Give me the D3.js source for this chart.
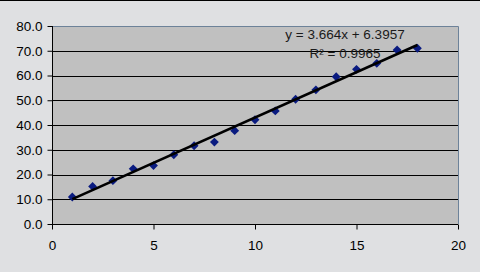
<!DOCTYPE html>
<html>
<head>
<meta charset="utf-8">
<script src="https://cdn.jsdelivr.net/npm/d3@7"></script>
<style>
   body { margin: 0; background: #dfe0e2; }
   svg { display: block; }
   text { font-family: "Liberation Sans", Arial, sans-serif; fill: #000; }
</style>
</head>
<body>
<div id="chart"></div>
<script>
var xValues = [1, 2, 3, 4, 5, 6, 7, 8, 9, 10, 11, 12, 13, 14, 15, 16, 17, 18]
var yValues = [10.9, 15.2, 17.5, 22.3, 23.6, 28.0, 31.6, 33.1, 37.7, 42.1, 45.7, 50.4, 54.2, 59.5, 62.5, 64.9, 70.3, 71.0]
var xTicks = [0, 5, 10, 15, 20]
var yTicks = [0, 10, 20, 30, 40, 50, 60, 70, 80]
var trendSlope = 3.664
var trendIntercept = 6.3957
var trendLabel = "y = 3.664x + 6.3957"
var r2Label = "R² = 0.9965"

var width = 480
var height = 272
var margin = { top: 26, right: 22, bottom: 48, left: 52 }

var svg = d3.select("#chart").append("svg")
   .attr("width", width)
   .attr("height", height)

svg.append("rect")
   .attr("width", width).attr("height", height)
   .attr("fill", "#dfe0e2")
svg.append("line")
   .attr("x1", 0).attr("x2", width).attr("y1", 0.5).attr("y2", 0.5)
   .attr("stroke", "#000")

var scaleX = d3.scaleLinear().domain([0, 20]).range([margin.left, width - margin.right])
var scaleY = d3.scaleLinear().domain([0, 80]).range([height - margin.bottom, margin.top])

// plot area
svg.append("rect")
   .attr("x", scaleX(0)).attr("y", scaleY(80))
   .attr("width", scaleX(20) - scaleX(0))
   .attr("height", scaleY(0) - scaleY(80))
   .attr("fill", "#c0c0c0")

// gridlines
svg.selectAll("line.grid").data(yTicks.filter(function(d) { return d > 0 && d < 80 }))
   .enter().append("line")
      .attr("class", "grid")
      .attr("x1", scaleX(0)).attr("x2", scaleX(20))
      .attr("y1", function(d) { return Math.round(scaleY(d)) + 0.5 })
      .attr("y2", function(d) { return Math.round(scaleY(d)) + 0.5 })
      .attr("stroke", "#000")

// top and right border
svg.append("path")
   .attr("d", "M" + scaleX(0) + "," + (Math.round(scaleY(80)) + 0.5) +
      "H" + (Math.round(scaleX(20)) + 0.5) + "V" + scaleY(0))
   .attr("fill", "none")
   .attr("stroke", "#6d8299")

// axes
var yAxis = d3.axisLeft(scaleY).tickValues(yTicks).tickSize(5).tickPadding(5)
   .tickFormat(d3.format(".1f"))
var xAxis = d3.axisBottom(scaleX).tickValues(xTicks).tickSize(5).tickPadding(11)

var gy = svg.append("g")
   .attr("transform", "translate(" + (Math.round(scaleX(0)) + 0.5) + ",0)")
   .call(yAxis)
var gx = svg.append("g")
   .attr("transform", "translate(0," + (Math.round(scaleY(0)) + 0.5) + ")")
   .call(xAxis)

;[gx, gy].forEach(function(g) {
   g.select(".domain").attr("stroke", "#000")
   g.selectAll(".tick line").attr("stroke", "#000")
   g.selectAll(".tick text")
      .attr("fill", "#000")
      .style("font-size", "13.5px")
      .style("font-family", "'Liberation Sans', Arial, sans-serif")
})
gy.select(".domain").attr("d", "M0," + scaleY(80) + "V" + scaleY(0))
gx.select(".domain").attr("d", "M" + scaleX(0) + ",0H" + scaleX(20))

// data points
var diamond = d3.symbol().type(d3.symbolDiamond2).size(50)
svg.selectAll("path.point").data(xValues)
   .enter().append("path")
      .attr("class", "point")
      .attr("d", diamond)
      .attr("fill", "#0a1b80")
      .attr("transform", function(d, i) {
         return "translate(" + scaleX(d) + "," + scaleY(yValues[i]) + ")"
      })

// trendline
var x0 = d3.min(xValues)
var x1 = d3.max(xValues)
svg.append("line")
   .attr("x1", scaleX(x0)).attr("y1", scaleY(trendSlope * x0 + trendIntercept))
   .attr("x2", scaleX(x1)).attr("y2", scaleY(trendSlope * x1 + trendIntercept))
   .attr("stroke", "#000")
   .attr("stroke-width", 2.6)

// equation labels
svg.append("text")
   .attr("x", 345).attr("y", 39)
   .attr("text-anchor", "middle")
   .style("font-size", "13.5px")
   .style("fill", "#1a1a1a")
   .text(trendLabel)
svg.append("text")
   .attr("x", 345).attr("y", 58)
   .attr("text-anchor", "middle")
   .style("font-size", "13.5px")
   .style("fill", "#1a1a1a")
   .text(r2Label)
</script>
</body>
</html>
